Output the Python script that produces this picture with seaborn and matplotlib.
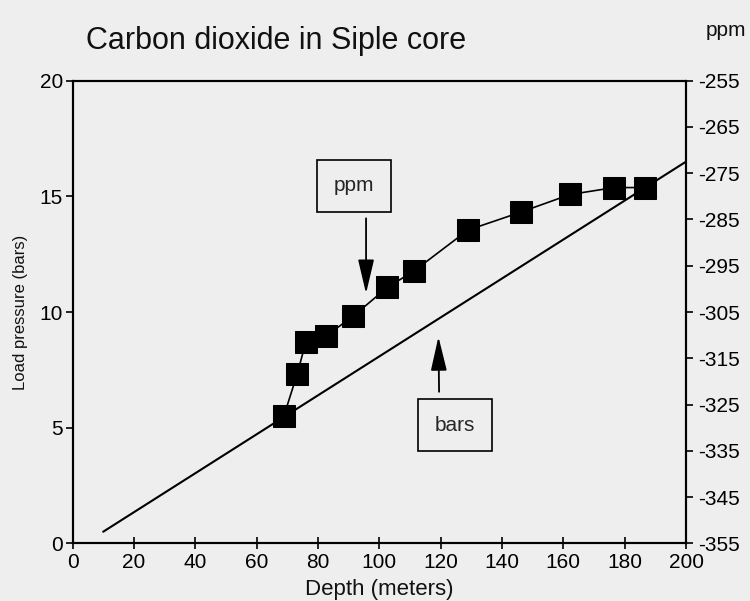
import matplotlib
matplotlib.use("Agg")
import matplotlib.pyplot as plt
import seaborn as sns
import numpy as np

# ---- data ----
depth_ppm = [68.9, 73.3, 76.1, 82.6, 91.5, 102.6, 111.4, 128.9, 146.2, 162.2, 176.6, 186.6]
ppm_values = [-327.5, -318.3, -311.4, -310.2, -305.9, -299.7, -296.1, -287.3, -283.4, -279.6, -278.1, -278.1]

depth_bars = [10, 200]
bars_values = [0.5, 16.5]

x_ticks = list(range(0, 201, 20))
left_ticks = [0, 5, 10, 15, 20]
right_ticks = list(range(-355, -254, 10))

title = "Carbon dioxide in Siple core"
xlabel = "Depth (meters)"
ylabel = "Load pressure (bars)"

sns.set_theme(style="ticks")
plt.rcParams["font.family"] = ["Liberation Sans", "DejaVu Sans"]
plt.rcParams["axes.unicode_minus"] = False

bg = "#eeeeee"
fig = plt.figure(figsize=(7.5, 6.01), dpi=100, facecolor=bg)
ax = fig.add_axes([72.5 / 750, 1 - 543.3 / 601, (686 - 72.5) / 750, (543.3 - 80.7) / 601])
ax.set_facecolor(bg)

sns.lineplot(x=depth_bars, y=bars_values, ax=ax, color="black", linewidth=1.5, sort=False, estimator=None)
ax.set_xlim(0, 200)
ax.set_ylim(0, 20)
ax.set_xticks(x_ticks)
ax.set_yticks(left_ticks)
ax.tick_params(axis="x", direction="inout", length=8, width=1.2, labelsize=15, pad=3, colors="black")
ax.tick_params(axis="y", direction="out", length=5, width=1.2, labelsize=15, pad=2, colors="black")
ax.set_xlabel(xlabel, fontsize=16, labelpad=5, color="#111111")
ax.set_ylabel(ylabel, fontsize=12, labelpad=8, color="#111111")
for s in ax.spines.values():
    s.set_color("black")
    s.set_linewidth(1.5)

ax2 = ax.twinx()
ax2.patch.set_visible(False)
sns.lineplot(x=depth_ppm, y=ppm_values, ax=ax2, color="black", linewidth=1.2,
             marker="s", markersize=16.5, markeredgecolor="black", markerfacecolor="black",
             sort=False, estimator=None)
ax2.set_ylim(-355, -255)
ax2.set_yticks(right_ticks)
ax2.set_yticklabels([str(t) for t in right_ticks])
ax2.set_ylabel("")
ax2.tick_params(axis="y", direction="out", length=5, width=1.2, labelsize=15, pad=4, colors="black")
for s in ax2.spines.values():
    s.set_color("black")
    s.set_linewidth(1.5)

# annotations
box = dict(boxstyle="square,pad=0.8", fc=bg, ec="black", lw=1.2)
ax.text(91.7, 15.45, "ppm", fontsize=15, ha="center", va="center", bbox=box, zorder=5)
ax.text(124.6, 5.11, "bars", fontsize=15, ha="center", va="center", bbox=box, zorder=5)
arrow = dict(arrowstyle="-|>,head_length=1.4,head_width=0.33", lw=1.3, color="black",
             mutation_scale=15, shrinkA=0, shrinkB=0)
ax.annotate("", xy=(95.7, 10.8), xytext=(95.7, 14.05), arrowprops=arrow, zorder=5)
ax.annotate("", xy=(119.3, 8.93), xytext=(119.5, 6.55), arrowprops=arrow, zorder=5)

fig.text(86 / 750, 1 - 41 / 601, title, fontsize=22, ha="left", va="center", color="#111111")
fig.text(706 / 750, 1 - 31 / 601, "ppm", fontsize=15, ha="left", va="center", color="#111111")

fig.savefig("out.png", dpi=100, facecolor=bg)
